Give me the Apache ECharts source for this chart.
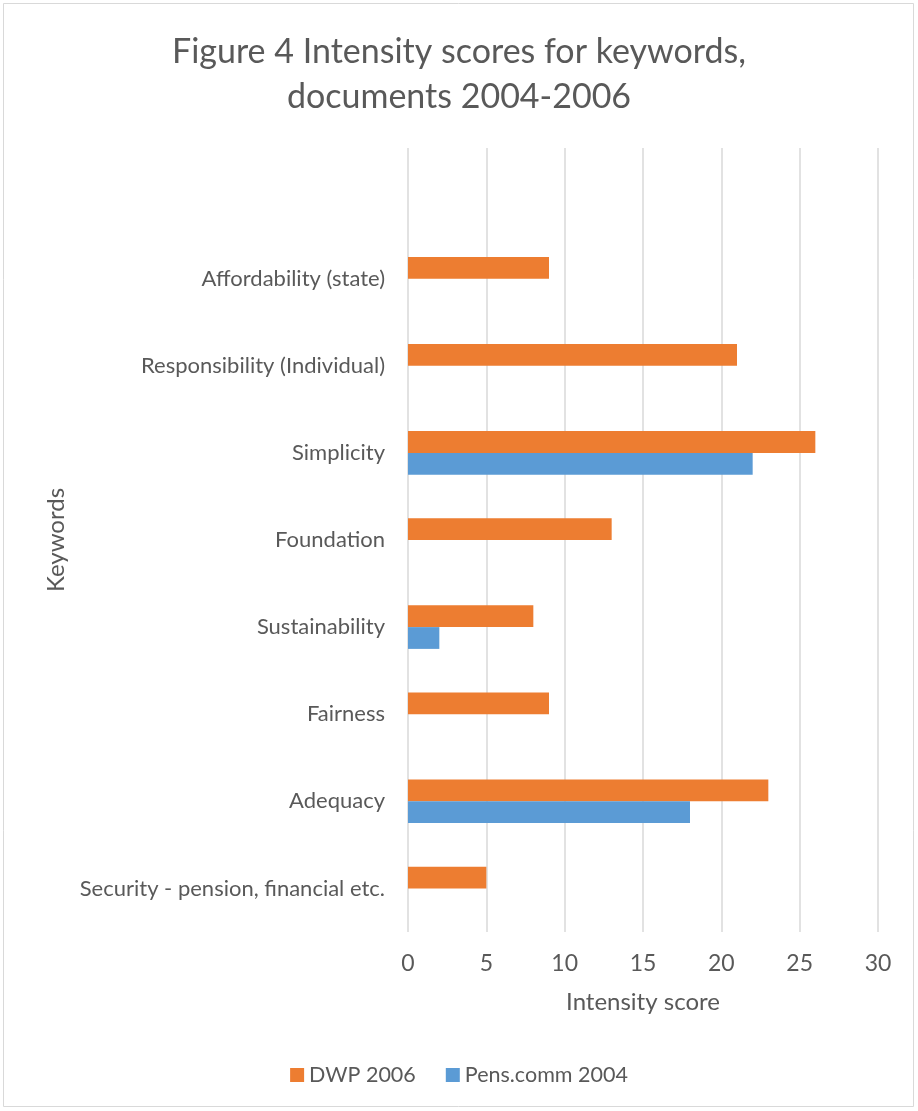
<!DOCTYPE html>
<html>
<head>
<meta charset="utf-8">
<script src="https://cdn.jsdelivr.net/npm/echarts@6/dist/echarts.min.js"></script>
<style>
  html, body { margin: 0; padding: 0; background: #fff; }
  #chart { width: 918px; height: 1111px; }
</style>
</head>
<body>
<div id="chart"></div>
<script>
// bottom to top, the last slot is the empty row Excel left at the top
const keywords = [
  'Security - pension, financial etc.',
  'Adequacy',
  'Fairness',
  'Sustainability',
  'Foundation',
  'Simplicity',
  'Responsibility (Individual)',
  'Affordability (state)',
  '',
]
const dwp2006 = [5, 23, 9, 8, 13, 26, 21, 9, null]
const pensComm2004 = [null, 18, null, 2, null, 22, null, null, null]
const xTicks = [0, 5, 10, 15, 20, 25, 30]

const textColor = '#595959'
const font = 'Lato'

const chart = echarts.init(document.getElementById('chart'), null, { renderer: 'canvas' })

chart.setOption({
  backgroundColor: '#fff',
  animation: false,
  textStyle: { fontFamily: font },
  title: {
    text: 'Figure 4 Intensity scores for keywords,\ndocuments 2004-2006',
    left: 'center',
    top: 30,
    padding: 0,
    textStyle: {
      color: textColor,
      fontFamily: font,
      fontSize: 34,
      fontWeight: 'normal',
      lineHeight: 45,
    },
  },
  graphic: [
    {
      type: 'rect',
      shape: { x: 3.5, y: 3.5, width: 910, height: 1103 },
      style: { fill: 'none', stroke: '#d9d9d9', lineWidth: 1 },
      silent: true,
    },
  ],
  legend: {
    bottom: 20,
    left: 'center',
    itemWidth: 14,
    itemHeight: 14,
    itemGap: 30,
    icon: 'rect',
    data: ['DWP 2006', 'Pens.comm 2004'],
    textStyle: { color: textColor, fontSize: 21.5, fontFamily: font },
  },
  grid: {
    left: 408,
    right: 40,
    top: 148,
    bottom: 179,
  },
  xAxis: {
    type: 'value',
    min: xTicks[0],
    max: xTicks[xTicks.length - 1],
    interval: 5,
    name: 'Intensity score',
    nameLocation: 'middle',
    nameGap: 58,
    nameTextStyle: { color: textColor, fontSize: 24, fontFamily: font },
    axisLine: { show: false },
    axisTick: { show: false },
    axisLabel: { color: textColor, fontSize: 23, margin: 20, fontFamily: font },
    splitLine: { lineStyle: { color: '#d9d9d9', width: 1.5 } },
  },
  yAxis: {
    type: 'category',
    data: keywords,
    name: 'Keywords',
    nameLocation: 'middle',
    nameGap: 340,
    nameRotate: 90,
    nameTextStyle: { color: textColor, fontSize: 24, fontFamily: font },
    axisLine: { show: false },
    axisTick: { show: false },
    axisLabel: { color: textColor, fontSize: 22, margin: 23, fontFamily: font },
    splitLine: { show: false },
  },
  series: [
    {
      name: 'DWP 2006',
      type: 'bar',
      data: dwp2006,
      barGap: '0%',
      barCategoryGap: '50%',
      itemStyle: { color: '#ed7d31' },
    },
    {
      name: 'Pens.comm 2004',
      type: 'bar',
      data: pensComm2004,
      barGap: '0%',
      barCategoryGap: '50%',
      itemStyle: { color: '#5b9bd5' },
    },
  ],
})
</script>
</body>
</html>
